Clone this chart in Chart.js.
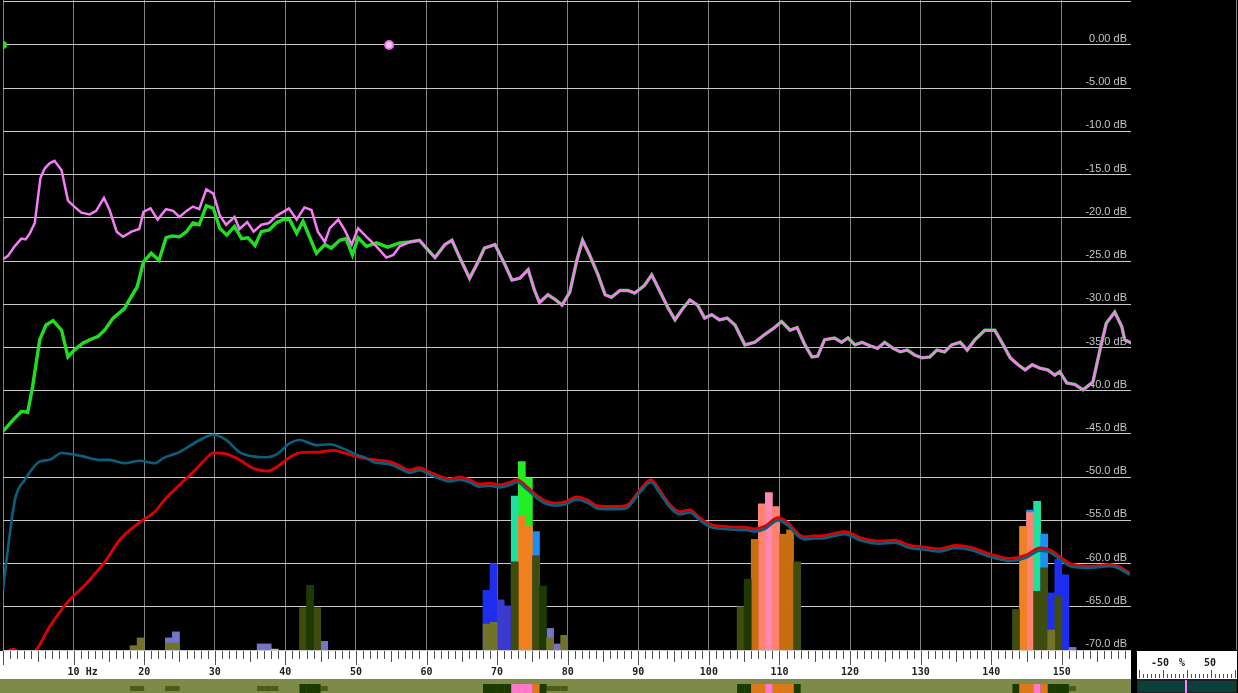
<!DOCTYPE html>
<html>
<head>
<meta charset="utf-8">
<title>Spectrum</title>
<script src="https://cdn.jsdelivr.net/npm/chart.js@4/dist/chart.umd.min.js"></script>
<style>
    html, body { margin: 0; padding: 0; background: #000; overflow: hidden; }
    canvas { display: block; }
</style>
</head>
<body>
<canvas id="spectrum" width="1238" height="693"></canvas>
<script>
// x axis labels on the ruler (Hz)
const hzLabels = [10, 20, 30, 40, 50, 60, 70, 80, 90, 100, 110, 120, 130, 140, 150];

// Pink trace, low part (Hz / dB)
const pinkHz = [0, 0.7, 1.65, 2.6, 3.2, 3.8, 4.5, 5.3, 5.9, 6.6, 7.3, 8.3, 9.2, 10.1, 11.1, 12.3, 13.2, 14.3, 15.1, 16.1, 17.0, 18.2, 19.3, 19.9, 20.9, 21.9, 23.1, 24.1, 25.0, 26.0, 26.9, 27.8, 28.8, 29.8, 30.7, 31.6, 32.8, 33.5, 34.6, 35.5, 36.6, 37.7, 38.7, 40.5, 41.6, 42.7, 43.7, 44.6, 45.6, 46.3, 47.5, 48.4, 49.4, 50.3, 51.5, 52.9, 54.3, 55.3, 56.2];
const pinkDb = [-24.8, -24.4, -23.3, -22.4, -22.5, -21.8, -20.6, -15.4, -14.3, -13.7, -13.4, -14.5, -18.0, -18.7, -19.4, -19.6, -19.2, -17.7, -19.1, -21.6, -22.2, -21.6, -21.3, -19.3, -18.9, -20.2, -19.0, -19.2, -19.9, -19.2, -18.7, -19.0, -16.7, -17.2, -19.7, -20.8, -19.9, -21.3, -20.5, -21.6, -20.8, -20.6, -19.8, -18.9, -20.2, -18.8, -19.1, -21.6, -22.8, -21.2, -20.2, -21.4, -23.1, -21.2, -22.2, -23.3, -24.6, -24.3, -23.3];

// Green trace, low part
const greenHz = [0, 1.4, 2.6, 3.5, 4.2, 5.2, 6.1, 7.1, 8.3, 9.2, 10.1, 11.3, 12.3, 13.5, 14.4, 15.6, 17.2, 17.9, 19.0, 19.9, 21.0, 22.1, 23.1, 24.0, 25.0, 26.0, 26.9, 27.8, 28.8, 29.8, 30.7, 31.7, 32.8, 33.8, 34.7, 35.7, 36.6, 37.7, 38.7, 39.7, 40.6, 41.6, 42.5, 44.4, 45.6, 46.5, 47.7, 48.6, 49.5, 50.3, 51.5, 52.9, 54.5, 56.2];
const greenDb = [-44.7, -43.4, -42.4, -42.5, -39.5, -34.1, -32.4, -31.9, -33.0, -36.1, -35.3, -34.5, -34.1, -33.7, -33.0, -31.6, -30.5, -29.5, -28.0, -25.1, -24.1, -24.9, -22.3, -22.1, -22.2, -21.6, -20.6, -20.8, -18.6, -18.9, -21.2, -22.0, -21.0, -22.4, -22.3, -23.2, -21.6, -21.4, -20.6, -20.2, -20.2, -21.8, -20.4, -24.1, -23.1, -23.5, -22.6, -22.4, -24.3, -22.3, -23.3, -22.9, -23.4, -22.9];

// Above ~57 Hz the pink and green traces sit on top of each other
const tailHz = [57.6, 59.0, 60.2, 61.2, 62.6, 63.6, 64.7, 66.1, 67.3, 68.2, 69.7, 71.1, 72.1, 73.2, 74.4, 75.3, 76.0, 77.2, 78.3, 79.2, 80.3, 81.3, 82.1, 83.1, 84.3, 85.3, 86.2, 87.4, 88.5, 89.5, 90.9, 91.9, 93.0, 94.2, 95.2, 96.2, 97.3, 98.4, 99.4, 100.4, 101.5, 102.6, 103.7, 105.1, 106.5, 107.9, 109.3, 110.3, 111.5, 112.5, 113.6, 114.6, 115.4, 116.4, 117.8, 118.8, 119.7, 120.7, 121.7, 122.8, 123.9, 124.9, 126.1, 127.1, 128.1, 129.2, 130.2, 131.3, 132.3, 133.4, 134.4, 135.6, 136.6, 137.7, 139.1, 140.5, 141.7, 142.7, 143.8, 144.8, 145.8, 146.9, 148.0, 149.0, 149.7, 150.7, 151.9, 153.0, 154.4, 155.4, 156.3, 157.5, 158.5, 158.9, 159.9];
const tailDb = [-22.8, -22.6, -23.7, -24.6, -23.1, -22.6, -24.6, -27.0, -25.1, -23.5, -23.1, -25.4, -27.2, -27.0, -26.0, -28.4, -29.8, -28.9, -29.5, -30.1, -28.6, -24.9, -22.6, -24.3, -26.6, -28.9, -29.2, -28.4, -28.4, -28.7, -27.8, -26.6, -28.4, -30.4, -31.8, -30.6, -29.5, -30.1, -31.6, -31.2, -31.8, -31.6, -32.4, -34.7, -34.4, -33.5, -32.7, -32.0, -33.0, -32.7, -34.7, -36.1, -36.0, -34.1, -33.9, -34.4, -33.9, -34.7, -34.4, -34.8, -35.1, -34.4, -35.1, -35.5, -35.3, -35.9, -36.2, -36.1, -35.3, -35.5, -34.7, -34.4, -35.3, -34.1, -33.0, -33.0, -34.7, -36.2, -37.0, -37.6, -37.0, -37.4, -37.6, -38.2, -37.8, -39.1, -39.3, -39.9, -39.0, -35.3, -32.2, -30.9, -32.6, -34.1, -34.5];

// Smoothed red trace
const redHz = [0, 1.5, 2.5, 4.5, 6.6, 9.0, 11.8, 14.6, 16.5, 19.4, 21.5, 22.9, 25.0, 27.2, 28.6, 29.8, 31.6, 33.5, 35.5, 37.5, 39.0, 40.1, 42.0, 44.9, 46.8, 49.1, 51.0, 52.7, 54.8, 56.2, 57.6, 59.0, 60.4, 61.9, 63.3, 64.7, 66.1, 67.5, 69.0, 70.4, 71.8, 72.8, 74.2, 75.6, 77.0, 78.4, 79.8, 81.2, 82.7, 84.1, 85.5, 87.4, 88.5, 90.2, 91.8, 93.0, 94.5, 95.9, 97.3, 98.7, 100.3, 102.3, 104.4, 105.1, 106.5, 107.9, 109.8, 111.2, 112.6, 113.6, 115.0, 116.0, 117.8, 119.3, 121.4, 124.2, 126.3, 128.5, 130.6, 132.7, 134.9, 137.0, 139.1, 141.2, 142.6, 145.0, 146.9, 148.3, 149.7, 151.2, 154.0, 156.8, 158.2, 159.6];
const redDb = [-70.4, -69.9, -70.4, -70.1, -67.3, -64.6, -62.3, -59.6, -57.3, -55.2, -54.0, -52.6, -50.9, -49.2, -48.0, -47.2, -47.3, -48.0, -49.0, -49.3, -48.7, -48.0, -47.2, -47.1, -46.9, -47.4, -47.8, -48.0, -48.2, -48.7, -49.2, -48.9, -49.4, -49.9, -50.2, -50.0, -50.3, -50.8, -50.7, -50.9, -50.6, -50.3, -51.1, -52.1, -52.8, -53.0, -52.8, -52.3, -52.6, -53.3, -53.4, -53.4, -53.2, -51.5, -50.3, -51.5, -53.2, -54.0, -53.8, -54.7, -55.5, -55.7, -55.8, -55.8, -56.0, -55.7, -54.7, -55.3, -56.5, -56.9, -56.8, -56.8, -56.5, -56.3, -57.0, -57.4, -57.3, -57.9, -58.1, -58.3, -57.9, -58.1, -58.7, -59.2, -59.4, -59.0, -58.2, -58.4, -59.2, -60.0, -60.3, -60.1, -60.4, -61.1];

// Smoothed teal trace
const tealHz = [0, 0.5, 1.7, 3.1, 5.2, 6.6, 8.3, 10.1, 11.3, 13.7, 15.1, 17.2, 19.4, 21.5, 22.7, 25.0, 27.9, 29.8, 31.6, 33.5, 35.4, 37.3, 38.7, 40.6, 42.0, 44.4, 46.3, 48.2, 50.1, 51.5, 52.7, 54.8, 56.2, 57.6, 59.0, 60.4, 61.9, 63.3, 64.7, 66.1, 67.5, 69.0, 70.4, 71.8, 72.8, 74.2, 75.6, 77.0, 78.4, 79.8, 81.2, 82.7, 84.1, 85.5, 87.4, 88.5, 90.2, 91.8, 93.0, 94.5, 95.9, 97.3, 98.7, 100.3, 102.3, 104.4, 105.1, 106.5, 107.9, 109.8, 111.2, 112.6, 113.6, 115.0, 116.0, 117.8, 119.3, 121.4, 124.2, 126.3, 128.5, 130.6, 132.7, 134.9, 137.0, 139.1, 141.2, 142.6, 145.0, 146.9, 148.3, 149.7, 151.2, 154.0, 156.8, 158.2, 159.6];
const tealDb = [-63.1, -59.6, -52.6, -50.3, -48.2, -48.0, -47.2, -47.4, -47.6, -48.0, -48.0, -48.4, -48.1, -48.4, -47.8, -47.1, -45.7, -45.1, -45.7, -47.1, -47.6, -47.7, -47.4, -46.1, -45.7, -46.3, -46.2, -46.7, -47.4, -47.8, -48.3, -48.5, -49.0, -49.5, -49.2, -49.7, -50.2, -50.5, -50.3, -50.6, -51.1, -51.0, -51.2, -50.9, -50.6, -51.4, -52.4, -53.1, -53.3, -53.1, -52.6, -52.9, -53.6, -53.7, -53.7, -53.5, -51.8, -50.6, -51.8, -53.5, -54.3, -54.1, -55.0, -55.8, -56.0, -56.1, -56.1, -56.3, -56.0, -55.0, -55.6, -56.8, -57.2, -57.1, -57.1, -56.8, -56.6, -57.3, -57.7, -57.6, -58.2, -58.4, -58.6, -58.2, -58.4, -59.0, -59.5, -59.7, -59.3, -58.5, -58.7, -59.5, -60.3, -60.5, -60.3, -60.6, -61.3];

// Marker points at the top
const greenMarkHz = [0];
const greenMarkDb = [0];
const pinkMarkHz = [54.7];
const pinkMarkDb = [0];

// Histogram bins (start of a 1 Hz bin / level in dB)
const brightGreenHz = [73, 74];
const brightGreenDb = [-48.2, -50.1];
const aquaHz = [72, 146];
const aquaDb = [-52.2, -52.8];
const lightBlueHz = [75, 145, 147];
const lightBlueDb = [-56.3, -53.8, -56.6];
const blueHz = [68, 69, 148, 149, 150];
const blueDb = [-63.1, -60.0, -63.4, -59.5, -61.3];
const midBlueHz = [70, 71];
const midBlueDb = [-64.2, -64.9];
const slateHz = [23, 24, 36, 37, 45, 77, 78, 151];
const slateDb = [-68.6, -67.9, -69.3, -69.3, -69.0, -67.5, -69.3, -69.7];
const pinkBarHz = [108];
const pinkBarDb = [-51.8];
const salmonHz = [107, 109, 145];
const salmonDb = [-53.1, -53.4, -54.1];
const orangeHz = [73, 74, 144];
const orangeDb = [-54.5, -55.7, -55.7];
const darkOrangeHz = [106, 110, 111];
const darkOrangeDb = [-57.2, -56.6, -56.1];
const darkGreenHz = [43, 76, 105];
const darkGreenDb = [-62.5, -62.6, -61.8];
const darkOliveHz = [42, 43, 44, 72, 75, 104, 112, 143, 146, 147, 149];
const darkOliveDb = [-65.1, -65.1, -65.1, -59.8, -59.1, -65.0, -59.8, -65.3, -63.2, -60.5, -63.8];
const oliveHz = [18, 19, 23, 24, 68, 69, 77, 79, 148];
const oliveDb = [-69.5, -68.6, -69.2, -69.2, -67.0, -66.8, -68.6, -68.3, -67.7];
const greyHz = [38];
const greyDb = [-69.9];

// Bar groups, back to front is highest order first
const barGroups = [
    { hz: brightGreenHz, db: brightGreenDb, color: '#22ee22', order: 30 },
    { hz: aquaHz, db: aquaDb, color: '#20e0a0', order: 29 },
    { hz: lightBlueHz, db: lightBlueDb, color: '#1a8ff5', order: 28 },
    { hz: blueHz, db: blueDb, color: '#1e2ef0', order: 27 },
    { hz: midBlueHz, db: midBlueDb, color: '#3a3ad0', order: 26 },
    { hz: slateHz, db: slateDb, color: '#7474c8', order: 25 },
    { hz: pinkBarHz, db: pinkBarDb, color: '#ff88b0', order: 24 },
    { hz: salmonHz, db: salmonDb, color: '#ff8270', order: 23 },
    { hz: orangeHz, db: orangeDb, color: '#f08020', order: 22 },
    { hz: darkOrangeHz, db: darkOrangeDb, color: '#c86e10', order: 21 },
    { hz: darkOliveHz, db: darkOliveDb, color: '#3e4c0e', order: 20 },
    { hz: darkGreenHz, db: darkGreenDb, color: '#1c3a02', order: 19 },
    { hz: oliveHz, db: oliveDb, color: '#727228', order: 18 },
    { hz: greyHz, db: greyDb, color: '#c0c0c0', order: 17 }
];

const toPoints = (hz, db) => hz.map((h, i) => ({ x: h, y: db[i] }));

// Format like "0.00 dB", "-5.00 dB", "-10.0 dB"
function dbLabel(v) {
    const txt = Math.abs(v) < 10 ? v.toFixed(2) : v.toFixed(1);
    return txt + ' dB';
}

function barDataset(group) {
    return {
        type: 'bar',
        data: group.hz.map((h, i) => ({ x: h + 0.5, y: [-70, group.db[i]] })),
        backgroundColor: group.color,
        borderWidth: 0,
        barThickness: 7.06,
        grouped: false,
        order: group.order
    };
}

// Black background and the dB labels sitting just above each grid line
const backPlugin = {
    id: 'back',
    beforeDraw(chart) {
        const ctx = chart.ctx;
        ctx.save();
        ctx.fillStyle = '#000';
        ctx.fillRect(0, 0, chart.width, chart.height);
        ctx.restore();
    },
    beforeDatasetsDraw(chart) {
        const { ctx, chartArea: area, scales: { y } } = chart;
        ctx.save();
        ctx.fillStyle = '#c4c4c4';
        ctx.font = '11px "Liberation Sans", Arial, sans-serif';
        ctx.textAlign = 'right';
        ctx.textBaseline = 'middle';
        y.ticks.forEach(t => {
            if (t.value > 0) return;
            ctx.fillText(dbLabel(t.value), area.right - 4, y.getPixelForValue(t.value) - 6);
        });
        ctx.restore();
    }
};

// Ruler, spectrogram strip and the small box at the bottom right
const rulerPlugin = {
    id: 'ruler',
    afterDraw(chart) {
        const { ctx, chartArea: area, scales: { x } } = chart;
        const top = area.bottom + 1;
        ctx.save();

        // white ruler band
        ctx.fillStyle = '#ffffff';
        ctx.fillRect(0, top, area.right, 28);

        // tick marks every Hz
        ctx.strokeStyle = '#505050';
        ctx.lineWidth = 1;
        for (let hz = 0; hz <= 159; hz++) {
            const px = Math.round(x.getPixelForValue(hz)) + 0.5;
            const len = hz % 10 === 0 ? 14 : (hz % 5 === 0 ? 11 : 8);
            ctx.beginPath();
            ctx.moveTo(px, top);
            ctx.lineTo(px, top + len);
            ctx.stroke();
        }

        // labels
        ctx.fillStyle = '#202020';
        ctx.font = 'bold 10px "DejaVu Sans Mono", monospace';
        ctx.textBaseline = 'middle';
        hzLabels.forEach(v => {
            const px = x.getPixelForValue(v);
            const num = String(v);
            const w = ctx.measureText(num).width;
            ctx.textAlign = 'left';
            ctx.fillText(v === 10 ? num + ' Hz' : num, px - w / 2, top + 21);
        });

        // spectrogram strip
        ctx.fillStyle = '#7e8a48';
        ctx.fillRect(0, top + 28, area.right, chart.height - top - 28);
        const blobs = [];
        barGroups.forEach(g => g.hz.forEach((h, i) => blobs.push({ hz: h, db: g.db[i] })));
        blobs.sort((a, b) => a.db - b.db);
        blobs.forEach(b => {
            let c = '#4c5c18';
            if (b.db > -53) c = '#ff78d0';
            else if (b.db > -58) c = '#e07818';
            else if (b.db > -66) c = '#1a3a00';
            const x0 = x.getPixelForValue(b.hz);
            const x1 = x.getPixelForValue(b.hz + 1);
            const h = b.db > -66 ? 9 : 5;
            ctx.fillStyle = c;
            ctx.fillRect(x0, top + 33 + (9 - h) / 2, x1 - x0, h);
        });

        // right box with the -50 % 50 scale
        const bx = 1137, bw = 100;
        ctx.fillStyle = '#ffffff';
        ctx.fillRect(bx, top, bw, 28);
        ctx.fillStyle = '#202020';
        ctx.textAlign = 'center';
        ctx.fillText('-50', 1160, top + 12);
        ctx.fillText('%', 1182, top + 12);
        ctx.fillText('50', 1210, top + 12);
        ctx.strokeStyle = '#505050';
        for (let t = 0; t <= 24; t++) {
            const px = bx + 2.5 + t * 4;
            const len = t % 6 === 0 ? 8 : 4;
            ctx.beginPath();
            ctx.moveTo(px, top + 27);
            ctx.lineTo(px, top + 27 - len);
            ctx.stroke();
        }
        ctx.fillStyle = '#202020';
        ctx.fillRect(bx, top + 28, bw, chart.height - top - 28);
        ctx.fillStyle = '#0b3f3c';
        ctx.fillRect(bx + 1, top + 30, bw - 2, 11);
        ctx.fillStyle = '#ff80ff';
        ctx.fillRect(1185, top + 29, 2, 13);

        // right border of the black field
        ctx.strokeStyle = '#808080';
        ctx.beginPath();
        ctx.moveTo(1236.5, 0);
        ctx.lineTo(1236.5, area.bottom);
        ctx.stroke();

        ctx.restore();
    }
};

document.addEventListener('DOMContentLoaded', function() {
    const ctx = document.getElementById('spectrum').getContext('2d');

    const lineSets = [
        {
            data: toPoints(pinkMarkHz, pinkMarkDb),
            showLine: false,
            pointRadius: 4,
            pointBackgroundColor: '#ffc8ff',
            pointBorderColor: '#f070f0',
            pointBorderWidth: 2,
            order: 0
        },
        {
            data: toPoints(greenMarkHz, greenMarkDb),
            showLine: false,
            pointRadius: 4,
            pointBackgroundColor: '#22dd22',
            pointBorderWidth: 0,
            order: 0
        },
        {
            data: toPoints(pinkHz.concat(tailHz), pinkDb.concat(tailDb)),
            borderColor: '#f47cf4',
            borderWidth: 2.5,
            tension: 0,
            pointRadius: 0,
            order: 1
        },
        {
            data: toPoints(greenHz.concat(tailHz), greenDb.concat(tailDb)),
            borderColor: '#22dd22',
            borderWidth: 3.4,
            tension: 0,
            pointRadius: 0,
            order: 2
        },
        {
            data: toPoints(tealHz, tealDb),
            borderColor: '#0c5f7c',
            borderWidth: 2.6,
            cubicInterpolationMode: 'monotone',
            pointRadius: 0,
            order: 3
        },
        {
            data: toPoints(redHz, redDb),
            borderColor: '#e00000',
            borderWidth: 2.8,
            cubicInterpolationMode: 'monotone',
            pointRadius: 0,
            order: 4
        }
    ];

    new Chart(ctx, {
        type: 'line',
        data: {
            datasets: lineSets.concat(barGroups.map(barDataset))
        },
        options: {
            responsive: false,
            animation: false,
            layout: { autoPadding: false, padding: { left: 3, right: 107, top: 0, bottom: 43 } },
            plugins: {
                legend: { display: false },
                tooltip: { enabled: false }
            },
            scales: {
                x: {
                    type: 'linear',
                    min: 0,
                    max: 159.8,
                    offset: false,
                    border: { display: false },
                    grid: { color: '#808080', lineWidth: 1, drawTicks: false, offset: false },
                    ticks: { display: false, stepSize: 10, includeBounds: false }
                },
                y: {
                    type: 'linear',
                    position: 'right',
                    min: -70,
                    max: 5.2,
                    border: { display: false },
                    grid: { color: '#c8c8c8', lineWidth: 1, drawTicks: false },
                    ticks: { display: false, stepSize: 5, includeBounds: false }
                }
            }
        },
        plugins: [backPlugin, rulerPlugin]
    });
});
</script>
</body>
</html>
